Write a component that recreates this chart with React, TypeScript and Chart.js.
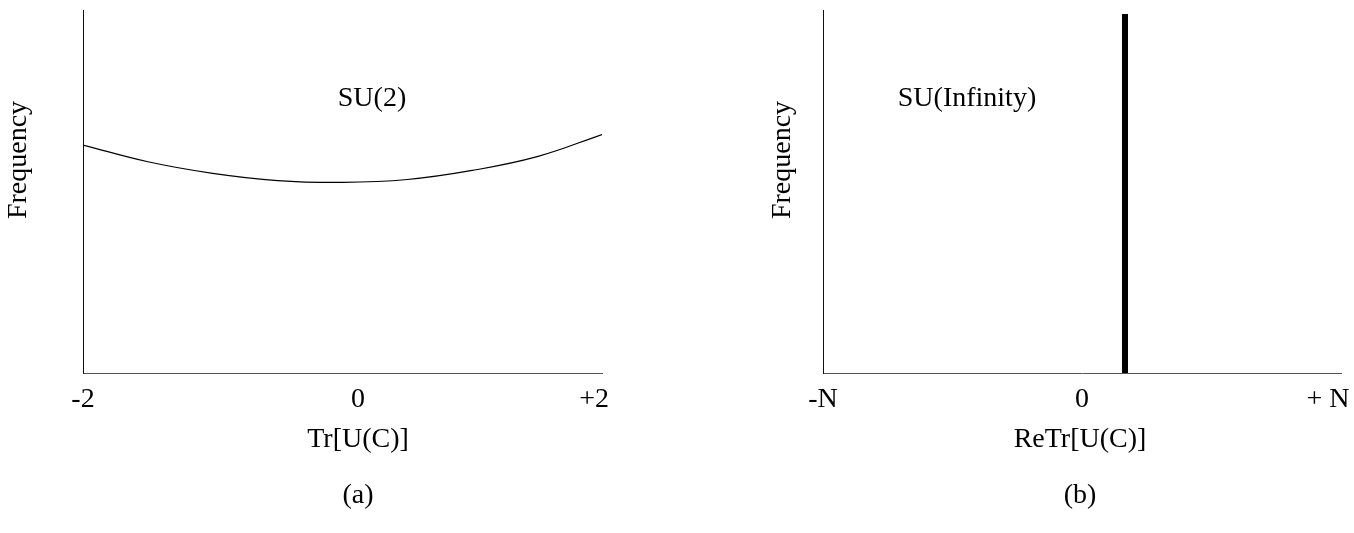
import React, { useEffect, useRef } from "react";
import { Chart, registerables } from "chart.js";

Chart.register(...registerables);

// ---- Data ----
// Panel (a): SU(2) trace distribution (relative frequency)
const su2TraceX = [-2, -1.5, -1, -0.5, 0, 0.5, 1, 1.5, 2];
const su2Frequency = [0.628, 0.582, 0.55, 0.53, 0.525, 0.533, 0.558, 0.596, 0.657];
const su2TickValues = [-2, 0.12, 1.94];
const su2TickLabels = ["-2", "0", "+2"];

// Panel (b): SU(Infinity) — delta spike
const suInfSpikeX = [0.166, 0.166];
const suInfSpikeY = [0, 0.989];
const suInfTickValues = [-1, 0, 0.95];
const suInfTickLabels = ["-N", "0", "+ N"];

const FONT_FAMILY = '"Liberation Serif", "Times New Roman", serif';
const FONT_SIZE = 28;

type TextItem = { text: string; x: number; y: number; rotate?: boolean };

function textPlugin(items: TextItem[]) {
  return {
    id: "texts",
    afterDraw(chart: any) {
      const ctx = chart.ctx;
      ctx.save();
      ctx.fillStyle = "#000";
      ctx.font = `${FONT_SIZE}px ${FONT_FAMILY}`;
      ctx.textAlign = "center";
      ctx.textBaseline = "alphabetic";
      for (const it of items) {
        if (it.rotate) {
          ctx.save();
          ctx.translate(it.x, it.y);
          ctx.rotate(-Math.PI / 2);
          ctx.fillText(it.text, 0, 0);
          ctx.restore();
        } else {
          ctx.fillText(it.text, it.x, it.y);
        }
      }
      ctx.restore();
    },
  };
}

function makeOptions(
  min: number,
  max: number,
  tickValues: number[],
  tickLabels: string[],
  pad: { left: number; right: number }
) {
  return {
    animation: false,
    responsive: false,
    maintainAspectRatio: false,
    events: [],
    layout: { padding: { left: pad.left, right: pad.right, top: 10, bottom: 100 } },
    plugins: { legend: { display: false }, tooltip: { enabled: false } },
    scales: {
      x: {
        type: "linear",
        min,
        max,
        afterBuildTicks: (scale: any) => {
          scale.ticks = tickValues.map((v) => ({ value: v }));
        },
        afterFit: (scale: any) => {
          scale.height = 60;
          scale.paddingLeft = 0;
          scale.paddingRight = 0;
        },
        grid: { display: false, drawTicks: false },
        border: { display: true, color: "#555", width: 1 },
        ticks: {
          autoSkip: false,
          maxRotation: 0,
          minRotation: 0,
          padding: 10,
          color: "#000",
          font: { family: FONT_FAMILY, size: FONT_SIZE },
          callback: (_v: any, i: number) => tickLabels[i],
        },
      },
      y: {
        type: "linear",
        min: 0,
        max: 1,
        afterFit: (scale: any) => {
          scale.width = 0;
          scale.paddingTop = 0;
          scale.paddingBottom = 0;
        },
        grid: { display: false, drawTicks: false },
        border: { display: true, color: "#111", width: 1 },
        ticks: { display: false },
      },
    },
  };
}

export default function App() {
  const leftRef = useRef<HTMLCanvasElement>(null);
  const rightRef = useRef<HTMLCanvasElement>(null);

  useEffect(() => {
    const left = new Chart(leftRef.current!, {
      type: "line",
      data: {
        datasets: [
          {
            data: su2TraceX.map((x, i) => ({ x, y: su2Frequency[i] })),
            borderColor: "#000",
            borderWidth: 1.2,
            pointRadius: 0,
            fill: false,
            tension: 0.4,
          },
        ],
      },
      options: makeOptions(-2, 2, su2TickValues, su2TickLabels, { left: 83, right: 78 }) as any,
      plugins: [
        textPlugin([
          { text: "Frequency", x: 26, y: 160, rotate: true },
          { text: "SU(2)", x: 372, y: 106 },
          { text: "Tr[U(C)]", x: 358, y: 447 },
          { text: "(a)", x: 358, y: 503 },
        ]),
      ],
    });

    const right = new Chart(rightRef.current!, {
      type: "line",
      data: {
        datasets: [
          {
            data: suInfSpikeX.map((x, i) => ({ x, y: suInfSpikeY[i] })),
            borderColor: "#000",
            borderWidth: 6,
            borderCapStyle: "butt",
            pointRadius: 0,
            fill: false,
          },
        ],
      },
      options: makeOptions(-1, 1, suInfTickValues, suInfTickLabels, { left: 143, right: 13 }) as any,
      plugins: [
        textPlugin([
          { text: "Frequency", x: 110, y: 160, rotate: true },
          { text: "SU(Infinity)", x: 287, y: 106 },
          { text: "ReTr[U(C)]", x: 400, y: 447 },
          { text: "(b)", x: 400, y: 503 },
        ]),
      ],
    });

    return () => {
      left.destroy();
      right.destroy();
    };
  }, []);

  return (
    <div style={{ position: "absolute", left: 0, top: 0, width: 1354, height: 533, background: "#fff" }}>
      <canvas
        ref={leftRef}
        width={680}
        height={533}
        style={{ position: "absolute", left: 0, top: 0, width: 680, height: 533 }}
      />
      <canvas
        ref={rightRef}
        width={674}
        height={533}
        style={{ position: "absolute", left: 680, top: 0, width: 674, height: 533 }}
      />
    </div>
  );
}
